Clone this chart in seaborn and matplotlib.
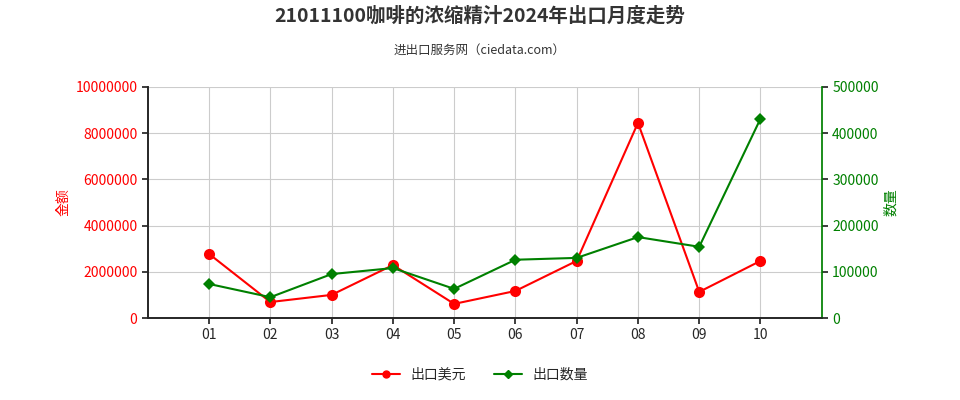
import matplotlib
matplotlib.use("Agg")
import matplotlib.pyplot as plt
from matplotlib import font_manager as fm
import seaborn as sns
import pandas as pd

months = ["01","02","03","04","05","06","07","08","09","10"]
usd = [2770000, 690000, 1000000, 2290000, 610000, 1170000, 2470000, 8440000, 1130000, 2470000]
qty = [73600, 45000, 95000, 108000, 63000, 126000, 130000, 175000, 154000, 431000]
left_ticks = [0, 2000000, 4000000, 6000000, 8000000, 10000000]
right_ticks = [0, 100000, 200000, 300000, 400000, 500000]

cjk = None
for f in fm.findSystemFonts():
    if "NotoSansCJK" in f.replace(" ", "") or "NotoSansSC" in f:
        try:
            fm.fontManager.addfont(f)
            cjk = fm.FontProperties(fname=f).get_name()
            if "Regular" in f:
                break
        except Exception:
            pass
sns.set_theme(style="white")
plt.rcParams["font.family"] = [cjk or "Noto Sans CJK SC", "DejaVu Sans"]
df = pd.DataFrame({"x": range(1, len(months)+1), "usd": usd, "qty": qty})

fig = plt.figure(figsize=(9.6, 4.0), dpi=100)
ax = fig.add_axes([0.154, 0.205, 0.702, 0.578])
ax2 = ax.twinx()
sns.lineplot(data=df, x="x", y="usd", ax=ax, color="#ff0000", marker="o", markersize=8, markeredgewidth=0, linewidth=1.5)
sns.lineplot(data=df, x="x", y="qty", ax=ax2, color="#008000", marker="D", markersize=6, markeredgewidth=0, linewidth=1.5)
ax.set_xlim(0, 11)
ax.set_ylim(0, 10000000)
ax2.set_ylim(0, 500000)
ax.set_xticks(range(1, len(months)+1))
ax.set_xticklabels(months)
ax.set_yticks(left_ticks)
ax.set_yticklabels([str(v) for v in left_ticks], color="#ff0000")
ax2.set_yticks(right_ticks)
ax2.set_yticklabels([str(v) for v in right_ticks], color="#008000")
ax.grid(True, color="#cccccc", linewidth=0.8)
ax.set_axisbelow(True)
for a in (ax, ax2):
    a.tick_params(labelsize=10, length=4, left=(a is ax), right=(a is ax2), bottom=(a is ax))
    a.spines["top"].set_visible(False)
ax.spines["right"].set_visible(False)
ax.spines["left"].set_color("#333333")
ax.spines["bottom"].set_color("#333333")
ax2.spines["right"].set_color("#008000")
ax.set_xlabel("")
ax.set_ylabel("金额", color="#ff0000", fontsize=10)
ax2.set_ylabel("数量", color="#008000", fontsize=10)
fig.text(0.5, 0.945, "21011100咖啡的浓缩精汁2024年出口月度走势", ha="center", fontsize=14, fontweight="bold", color="#333333")
fig.text(0.5, 0.865, "进出口服务网（ciedata.com）", ha="center", fontsize=9, color="#333333")
from matplotlib.lines import Line2D
h = [Line2D([], [], color="#ff0000", marker="o", markersize=5, label="出口美元"),
     Line2D([], [], color="#008000", marker="D", markersize=4, label="出口数量")]
fig.legend(handles=h, loc="center", bbox_to_anchor=(0.5, 0.063), ncol=2, frameon=False, fontsize=10)
fig.savefig("out.png", dpi=100)
